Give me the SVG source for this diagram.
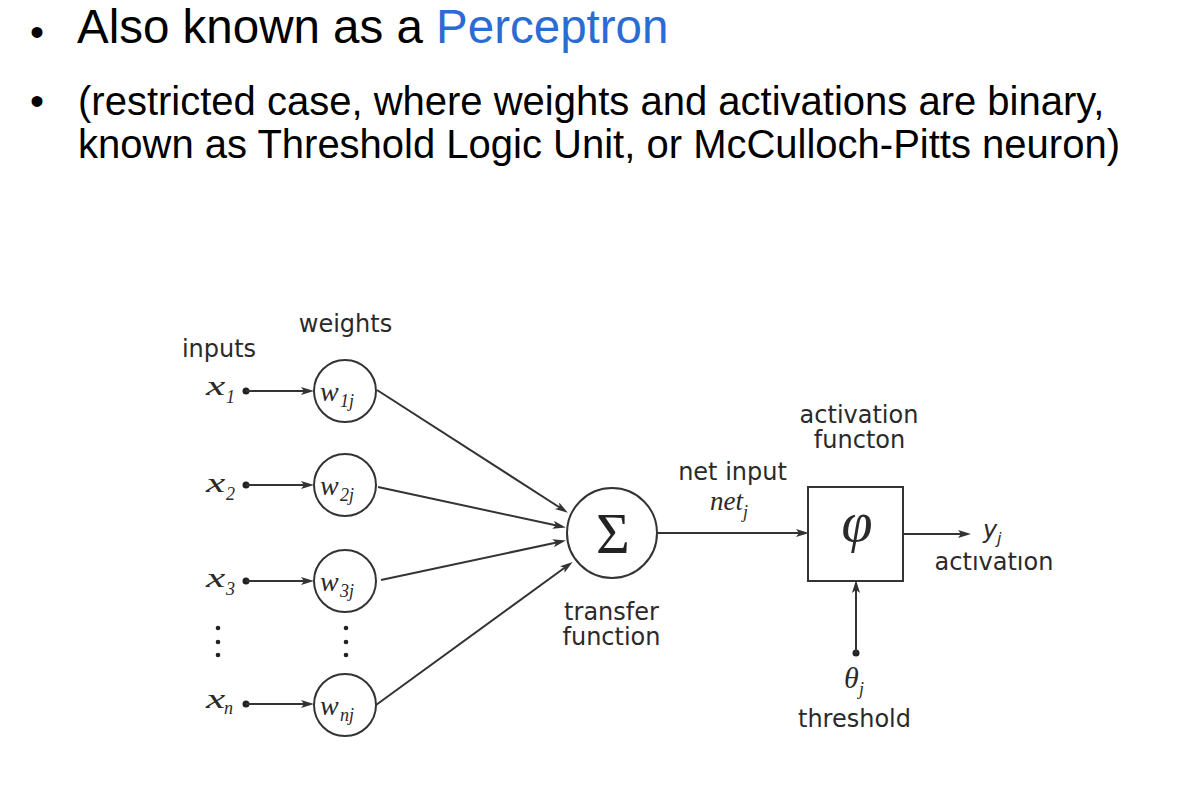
<svg xmlns="http://www.w3.org/2000/svg" width="1202" height="788" viewBox="0 0 1202 788">
<style>
.hdr{font-family:"Liberation Sans",Arial,sans-serif;fill:#000}
.lbl{font-family:"DejaVu Sans",sans-serif;font-size:24px;fill:#2a2a2a}
.mi{font-family:"Liberation Serif","Times New Roman",serif;font-style:italic;font-size:28px;fill:#2a2a2a}
.sub{font-size:18px}
.ln{stroke:#333;stroke-width:2;fill:none}
.node{stroke:#333;stroke-width:2;fill:#fff}
.dot{fill:#222}
</style>
<defs>
<marker id="arr" markerUnits="userSpaceOnUse" markerWidth="14" markerHeight="10" refX="6" refY="4" orient="auto">
<path d="M0,0 L13,4 L0,8 L3,4 z" fill="#333"/>
</marker>
</defs>
<rect width="1202" height="788" fill="#fff"/>
<g id="header">
<text class="hdr" x="30" y="46" font-size="40">•</text>
<text class="hdr" x="77" y="43" font-size="47.5">Also known as a <tspan fill="#2b6cd4">Perceptron</tspan></text>
<text class="hdr" x="30" y="115" font-size="40">•</text>
<text class="hdr" x="78" y="115" font-size="40">(restricted case, where weights and activations are binary,</text>
<text class="hdr" x="78" y="158" font-size="40">known as Threshold Logic Unit, or McCulloch-Pitts neuron)</text>
</g>
<g id="labels">
<text class="lbl" x="219" y="357" text-anchor="middle">inputs</text>
<text class="lbl" x="345.5" y="332" text-anchor="middle">weights</text>
<text class="lbl" x="611.5" y="620" text-anchor="middle">transfer</text>
<text class="lbl" x="611.5" y="645" text-anchor="middle">function</text>
<text class="lbl" x="732.5" y="480" text-anchor="middle">net input</text>
<text class="mi" x="710" y="510" style="font-size:27px">net<tspan class="sub" x="743" y="518">j</tspan></text>
<text class="lbl" x="859" y="423" text-anchor="middle">activation</text>
<text class="lbl" x="859.5" y="448" text-anchor="middle">functon</text>
<text class="lbl" x="994" y="570" text-anchor="middle">actıvatıon</text>
<text class="lbl" x="983" y="538" font-style="italic">y<tspan x="997" y="544" style="font-size:16px">j</tspan></text>
<text class="lbl" x="854.5" y="727" text-anchor="middle">threshold</text>
</g>
<g id="inputs">
<g id="x1"><text class="mi" transform="translate(206,395) scale(1.55,1)" x="0" y="0">x</text><text class="mi sub" x="226" y="403">1</text><circle class="dot" cx="246" cy="391" r="3.5"/></g>
<g id="x2"><text class="mi" transform="translate(206,492) scale(1.55,1)" x="0" y="0">x</text><text class="mi sub" x="226" y="500">2</text><circle class="dot" cx="246" cy="485" r="3.5"/></g>
<g id="x3"><text class="mi" transform="translate(206,587) scale(1.55,1)" x="0" y="0">x</text><text class="mi sub" x="226" y="595">3</text><circle class="dot" cx="246" cy="581" r="3.5"/></g>
<g id="xn"><text class="mi" transform="translate(206,708) scale(1.55,1)" x="0" y="0">x</text><text class="mi sub" x="224" y="714">n</text><circle class="dot" cx="246" cy="704" r="3.5"/></g>
<g id="vdots1"><circle class="dot" cx="218" cy="628" r="2.3"/><circle class="dot" cx="218" cy="642" r="2.3"/><circle class="dot" cx="218" cy="655" r="2.3"/></g>
</g>
<g id="weights">
<g id="w1"><circle class="node" cx="345" cy="391" r="31"/><text class="mi" x="320" y="401">w<tspan class="sub" x="340" y="407">1j</tspan></text></g>
<g id="w2"><circle class="node" cx="345" cy="485" r="31"/><text class="mi" x="320" y="495">w<tspan class="sub" x="340" y="501">2j</tspan></text></g>
<g id="w3"><circle class="node" cx="345" cy="581" r="31"/><text class="mi" x="320" y="591">w<tspan class="sub" x="340" y="597">3j</tspan></text></g>
<g id="wn"><circle class="node" cx="345" cy="705" r="31"/><text class="mi" x="320" y="715">w<tspan class="sub" x="340" y="721">nj</tspan></text></g>
<g id="vdots2"><circle class="dot" cx="346" cy="628" r="2.3"/><circle class="dot" cx="346" cy="642" r="2.3"/><circle class="dot" cx="346" cy="655" r="2.3"/></g>
</g>
<g id="sum"><circle class="node" cx="612" cy="533" r="45"/><text x="613" y="553" text-anchor="middle" font-family="'Liberation Serif',serif" font-size="58" fill="#222">Σ</text></g>
<g id="activation"><rect class="node" x="808" y="487" width="95" height="94"/><text class="mi" x="857" y="541" text-anchor="middle" style="font-size:56px">φ</text></g>
<g id="threshold"><circle class="dot" cx="856" cy="653" r="3.5"/><text class="mi" x="844" y="688" style="font-size:30px">θ<tspan class="sub" x="859" y="695">j</tspan></text></g>
<g id="connectors">
<line class="ln" x1="246" y1="391" x2="307" y2="391" marker-end="url(#arr)"/>
<line class="ln" x1="246" y1="485" x2="307" y2="485" marker-end="url(#arr)"/>
<line class="ln" x1="246" y1="581" x2="307" y2="581" marker-end="url(#arr)"/>
<line class="ln" x1="246" y1="704" x2="307" y2="704" marker-end="url(#arr)"/>
<line class="ln" x1="377" y1="390" x2="562" y2="509" marker-end="url(#arr)"/>
<line class="ln" x1="378" y1="487" x2="559" y2="526" marker-end="url(#arr)"/>
<line class="ln" x1="381" y1="580" x2="559" y2="542" marker-end="url(#arr)"/>
<line class="ln" x1="376" y1="705" x2="567" y2="566" marker-end="url(#arr)"/>
<line class="ln" x1="657" y1="533" x2="802" y2="533" marker-end="url(#arr)"/>
<line class="ln" x1="903" y1="534" x2="964" y2="534" marker-end="url(#arr)"/>
<line class="ln" x1="856" y1="653" x2="856" y2="587" marker-end="url(#arr)"/>
</g>
</svg>
